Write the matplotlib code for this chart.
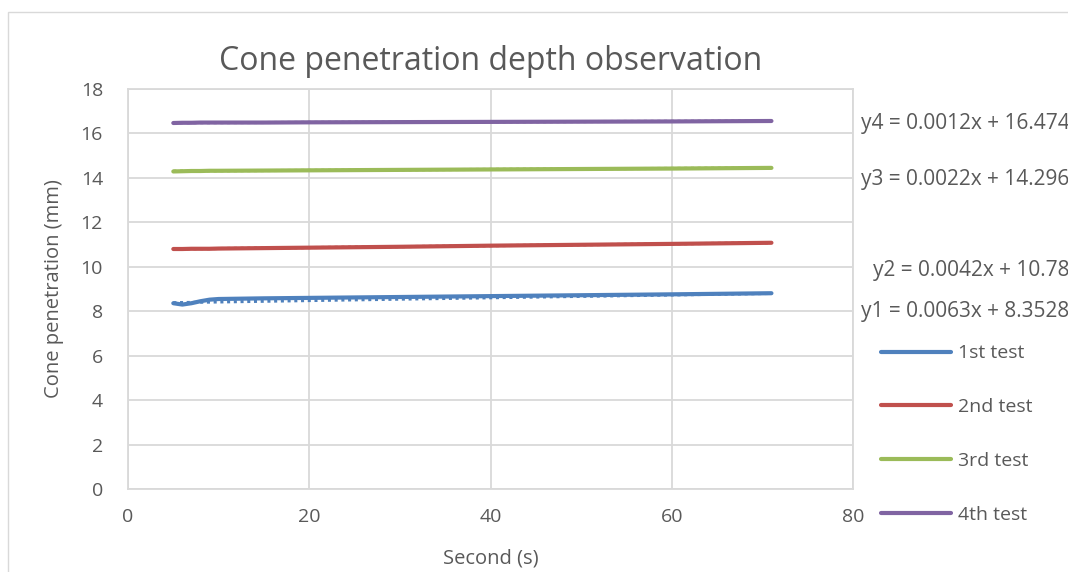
import matplotlib.pyplot as plt
import numpy as np
from matplotlib.patches import Rectangle

# readings (mm) against elapsed time (s)
seconds = [5, 6, 7, 8, 9, 10, 15, 20, 30, 40, 50, 60, 71]
test1 = [8.36, 8.30, 8.36, 8.45, 8.52, 8.55, 8.58, 8.60, 8.64, 8.68, 8.72, 8.76, 8.81]
test2 = [10.80, 10.80, 10.81, 10.81, 10.81, 10.82, 10.84, 10.86, 10.90, 10.95, 10.99, 11.03, 11.08]
test3 = [14.29, 14.30, 14.31, 14.31, 14.32, 14.32, 14.33, 14.34, 14.36, 14.38, 14.40, 14.42, 14.45]
test4 = [16.47, 16.48, 16.48, 16.49, 16.49, 16.49, 16.49, 16.50, 16.51, 16.52, 16.53, 16.54, 16.56]

series_names = ['1st test', '2nd test', '3rd test', '4th test']
slopes = [0.0063, 0.0042, 0.0022, 0.0012]
intercepts = [8.3528, 10.78, 14.296, 16.474]
eq_labels = ['y1 = 0.0063x + 8.3528', 'y2 = 0.0042x + 10.78',
             'y3 = 0.0022x + 14.296', 'y4 = 0.0012x + 16.474']
colors = ['#4F81BD', '#C0504D', '#9BBB59', '#8064A2']

txt = '#595959'
grid = '#D9D9D9'
plt.rcParams['font.family'] = ['Open Sans', 'DejaVu Sans']

fig = plt.figure(figsize=(10.68, 5.72), dpi=100)
fig.patches.append(Rectangle((8 / 1068, -0.1), 1.2, 1 - 12 / 572 + 0.1,
                             transform=fig.transFigure, fill=False,
                             edgecolor=grid, linewidth=1))
ax = fig.add_axes([128 / 1068, 83 / 572, 725 / 1068, 400 / 572])

x = np.array(seconds)
for vals, name, m, b, c in zip([test1, test2, test3, test4], series_names,
                               slopes, intercepts, colors):
    ax.plot(x, m * x + b, color=c, lw=2.2, ls=(0, (1, 1.2)))
    ax.plot(x, vals, color=c, lw=3, label=name, solid_capstyle='round')

ax.set_xlim(0, 80)
ax.set_ylim(0, 18)
ax.set_xticks(range(0, 81, 20))
ax.set_yticks(range(0, 19, 2))
ax.grid(True, color=grid, lw=1.3)
ax.set_axisbelow(True)
for s in ax.spines.values():
    s.set_color(grid)
    s.set_linewidth(1.3)
ax.tick_params(length=0, colors=txt, labelsize=14)
ax.tick_params(axis='x', pad=14)
ax.tick_params(axis='y', pad=18)

ax.set_title('Cone penetration depth observation', fontsize=23, color=txt, pad=14)
ax.set_xlabel('Second (s)', fontsize=14.5, color=txt, labelpad=16)
ax.set_ylabel('Cone penetration (mm)', fontsize=14.5, color=txt, labelpad=12)

# trendline equations at the right edge
eq_pos = [(861, 312), (873, 270), (861, 180), (861, 123)]
for lab, (px, py) in zip(eq_labels, eq_pos):
    fig.text(px / 1068, 1 - py / 572, lab, fontsize=15, color=txt,
             ha='left', va='center')

leg = ax.legend(loc='upper left', bbox_to_anchor=(1.014, 0.405), frameon=False,
                fontsize=14, labelcolor=txt, handlelength=3.6, handletextpad=0.4,
                labelspacing=1.84)

fig.savefig('out.png', dpi=100)
